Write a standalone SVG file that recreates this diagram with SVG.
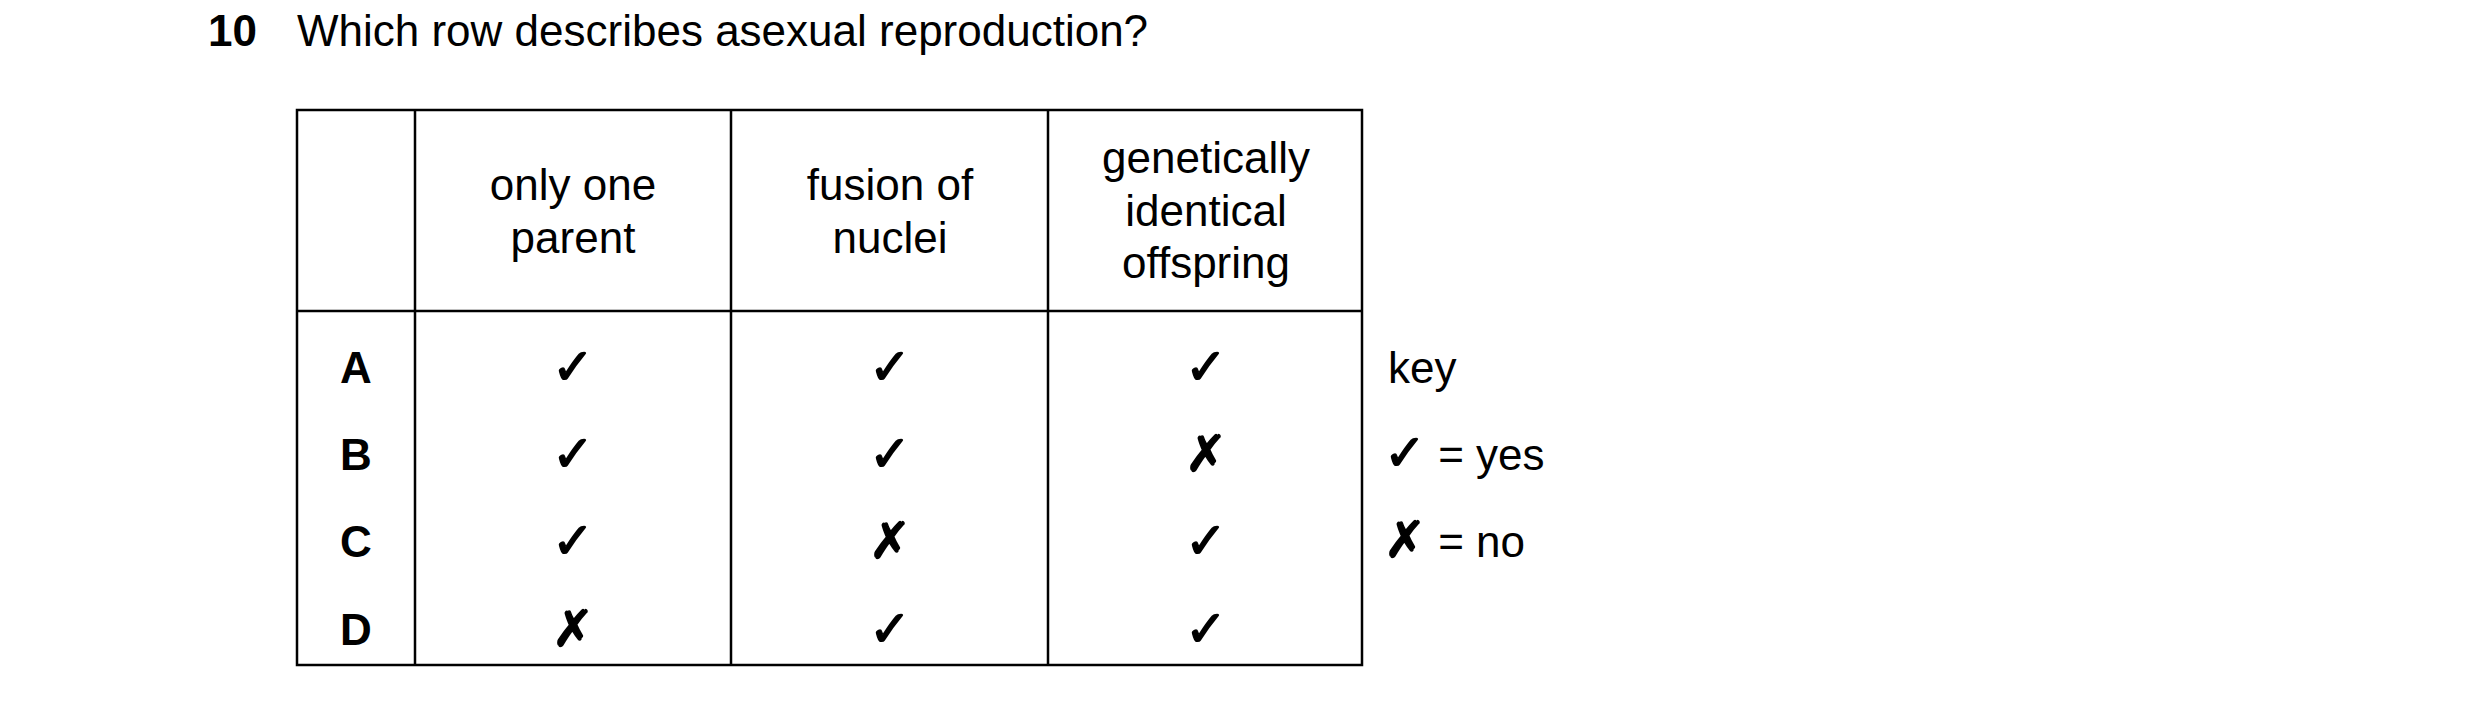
<svg xmlns="http://www.w3.org/2000/svg" width="2480" height="703" viewBox="0 0 2480 703">
<style>
text{font-family:"Liberation Sans",Arial,sans-serif;font-size:44px;fill:#000}
.c{text-anchor:middle}
.b{font-weight:bold}
.m{font-family:"DejaVu Sans",sans-serif;font-size:50px;stroke:#000;stroke-width:1.5}
line{stroke:#000;stroke-width:2.5}
</style>
<rect width="2480" height="703" fill="#fff"/>
<text class="b" x="208" y="46">10</text>
<text x="297" y="46">Which row describes asexual reproduction?</text>
<g id="table">
<rect x="297" y="110" width="1065" height="555" fill="none" stroke="#000" stroke-width="2.5"/>
<line x1="415" y1="110" x2="415" y2="665"/>
<line x1="731" y1="110" x2="731" y2="665"/>
<line x1="1048" y1="110" x2="1048" y2="665"/>
<line x1="297" y1="311" x2="1362" y2="311"/>
</g>
<g id="headers">
<text class="c" x="573" y="200">only one</text>
<text class="c" x="573" y="253">parent</text>
<text class="c" x="890" y="200">fusion of</text>
<text class="c" x="890" y="253">nuclei</text>
<text class="c" x="1206" y="173">genetically</text>
<text class="c" x="1206" y="226">identical</text>
<text class="c" x="1206" y="278">offspring</text>
</g>
<g id="rows">
<text class="c b" x="356" y="383">A</text>
<text class="c b" x="356" y="470">B</text>
<text class="c b" x="356" y="557">C</text>
<text class="c b" x="356" y="645">D</text>
<text class="c m" x="573" y="384">✓</text><text class="c m" x="890" y="384">✓</text><text class="c m" x="1206" y="384">✓</text>
<text class="c m" x="573" y="471">✓</text><text class="c m" x="890" y="471">✓</text><text class="c m" x="1206" y="471">✗</text>
<text class="c m" x="573" y="558">✓</text><text class="c m" x="890" y="558">✗</text><text class="c m" x="1206" y="558">✓</text>
<text class="c m" x="573" y="646">✗</text><text class="c m" x="890" y="646">✓</text><text class="c m" x="1206" y="646">✓</text>
</g>
<g id="key">
<text x="1388" y="383">key</text>
<text x="1384" y="470"><tspan class="m">✓</tspan> = yes</text>
<text x="1384" y="557"><tspan class="m">✗</tspan> = no</text>
</g>
</svg>
